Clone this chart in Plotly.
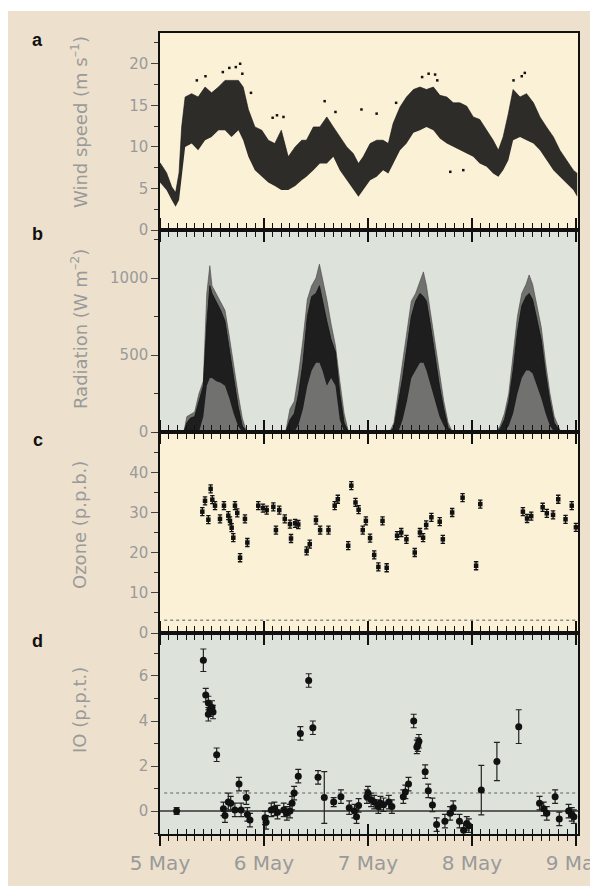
import numpy as np
import plotly.graph_objects as go

# ---------------- data ----------------
# Wind speed: envelope of the 1-s record (hours after 00:00 on 5 May)
wind_hours = [0, 1.5, 2.7, 3.6, 4.4, 5.0, 5.8, 7.3, 8.8, 10.4, 11.9, 13.5, 15, 16.5, 18.1,
              19.2, 20.4, 21.9, 23.5, 25, 26.5, 28, 29.6, 31.2, 32.7, 33.8, 35.4, 36.9, 38.5,
              40, 41.5, 43.1, 44.6, 45.8, 46.9, 48.5, 50, 51.5, 52.7, 53.8, 55.4, 56.9, 58.5,
              60, 61.5, 63.1, 64.6, 66.2, 67.7, 69.2, 70.8, 72.3, 73.8, 75.4, 76.9, 78.1,
              79.2, 80.4, 81.5, 83.1, 84.6, 86.2, 87.7, 89.2, 90.8, 92.3, 93.8, 95.4, 96.3]
wind_lo = [5.7, 4.8, 3.6, 2.8, 3.6, 6.4, 10.0, 10.4, 9.6, 10.8, 11.2, 12.0, 12.0, 11.2, 12.0,
           10.8, 8.8, 7.2, 6.4, 5.7, 5.3, 4.8, 4.8, 5.3, 6.0, 6.4, 7.2, 8.0, 8.0,
           8.8, 7.2, 6.0, 4.8, 4.0, 4.8, 6.0, 6.4, 7.2, 6.8, 8.0, 9.6, 10.4, 11.7,
           12.0, 12.4, 12.0, 11.0, 10.4, 10.0, 9.6, 9.2, 8.8, 8.0, 7.6, 6.8, 6.4,
           7.2, 8.4, 10.8, 11.2, 10.8, 10.4, 9.6, 8.4, 7.2, 6.4, 5.6, 4.8, 4.0]
wind_hi = [8.1, 6.9, 5.2, 4.5, 6.9, 12.4, 16.0, 16.4, 16.0, 17.2, 16.5, 17.2, 18.0, 18.0, 18.0,
           17.2, 14.5, 12.4, 12.0, 10.8, 10.4, 12.0, 8.8, 10.0, 10.8, 10.8, 12.4, 12.4, 13.6,
           12.4, 11.2, 10.0, 9.2, 8.0, 8.8, 10.4, 10.8, 10.8, 10.4, 12.8, 14.8, 16.0, 16.9,
           17.2, 16.9, 17.2, 16.2, 16.0, 15.3, 15.3, 14.9, 13.6, 13.3, 12.0, 10.8, 9.6,
           11.2, 14.0, 16.9, 16.0, 16.4, 15.3, 13.6, 12.4, 11.2, 9.6, 8.4, 7.2, 6.8]
# isolated gusts lying outside the main envelope
gust_hours = [8.5, 10.5, 14.5, 16.0, 17.5, 18.5, 19.0, 21.0, 26.0, 27.0, 28.5, 38.0, 40.5,
              46.5, 50.0, 54.5, 60.5, 62.0, 63.5, 64.0, 81.6, 83.5, 84.2, 67.0, 70.0]
gust_speed = [18.0, 18.5, 19.0, 19.5, 19.6, 20.0, 18.8, 16.5, 13.5, 13.8, 13.6, 15.5, 14.2,
              14.5, 14.0, 15.3, 18.4, 18.8, 18.7, 18.0, 18.0, 18.5, 18.9, 7.0, 7.2]

# Radiation (W m-2): upper envelope and the densely sampled core
rad_hours = [0,
             5.5, 6.2, 7, 8, 9, 10, 10.8, 11.5, 12, 13, 14, 15, 16, 17, 18, 19, 20,
             29, 30, 31, 32, 33, 34, 35, 36, 36.8, 37.5, 38.5, 39.5, 40.5, 41.5, 42.5, 43.5,
             53, 54, 55, 56, 57, 58, 59, 60, 60.8, 61.5, 62.5, 63.5, 64.5, 65.5, 66.5, 67.5,
             77.5, 78.5, 79.5, 80.5, 81.5, 82.5, 83.5, 84.5, 85.2, 86, 87, 88, 89, 90, 91, 92.5,
             96.5]
rad_max = [0,
           0, 100, 115, 130, 250, 330, 900, 1080, 950, 900, 840, 790, 620, 430, 250, 90, 0,
           0, 150, 200, 380, 600, 860, 950, 1000, 1090, 1000, 860, 700, 560, 330, 120, 0,
           0, 60, 250, 450, 650, 850, 900, 980, 1040, 950, 760, 560, 360, 200, 60, 0,
           0, 40, 120, 250, 500, 750, 900, 960, 1020, 960, 820, 680, 450, 250, 100, 0,
           0]
rad_core_lo = [0,
               0, 0, 0, 0, 0, 100, 300, 350, 350, 330, 320, 300, 220, 120, 40, 0, 0,
               0, 0, 0, 50, 150, 300, 400, 450, 450, 400, 300, 350, 300, 80, 0, 0,
               0, 0, 0, 80, 200, 350, 400, 450, 450, 400, 300, 200, 100, 40, 0, 0,
               0, 0, 0, 40, 120, 250, 350, 400, 400, 380, 300, 220, 120, 40, 0, 0,
               0]
rad_core_hi = [0,
               0, 60, 90, 100, 200, 300, 700, 950, 900, 850, 790, 720, 540, 350, 170, 40, 0,
               0, 80, 120, 250, 450, 750, 880, 900, 950, 850, 720, 600, 520, 250, 60, 0,
               0, 30, 180, 350, 550, 750, 850, 900, 880, 850, 680, 480, 300, 150, 30, 0,
               0, 20, 80, 200, 400, 650, 820, 880, 900, 860, 740, 600, 380, 200, 60, 0,
               0]

# Ozone (p.p.b.), time in days after 00:00 on 5 May
ozone_day = [0.407, 0.433, 0.465, 0.487, 0.503, 0.529, 0.577, 0.615, 0.657, 0.673, 0.689, 0.705,
             0.721, 0.743, 0.770, 0.817, 0.840, 0.945, 0.990, 1.026, 1.090, 1.115, 1.147, 1.200,
             1.250, 1.260, 1.300, 1.330, 1.410, 1.440, 1.500, 1.540, 1.620, 1.680, 1.710, 1.810,
             1.840, 1.880, 1.910, 1.950, 1.980, 2.020, 2.060, 2.100, 2.140, 2.180, 2.280, 2.320,
             2.370, 2.450, 2.500, 2.530, 2.560, 2.610, 2.690, 2.720, 2.810, 2.910, 3.040, 3.080,
             3.490, 3.530, 3.570, 3.680, 3.720, 3.780, 3.830, 3.900, 3.960, 4.000]
ozone_ppb = [30.3, 33.0, 28.3, 36.0, 33.3, 31.8, 28.5, 31.8, 29.3, 28.0, 26.3, 23.8,
             31.8, 30.0, 18.8, 28.5, 22.6, 31.8, 31.2, 30.7, 31.5, 25.7, 30.7, 28.5,
             27.2, 23.6, 27.4, 27.1, 20.5, 22.2, 28.2, 25.7, 25.7, 31.8, 33.4, 21.8,
             36.8, 32.6, 30.8, 25.7, 28.0, 23.7, 19.5, 16.5, 28.0, 16.3, 24.3, 25.1,
             23.4, 20.1, 25.1, 23.8, 27.0, 28.9, 27.8, 23.4, 30.1, 33.8, 16.8, 32.2,
             30.3, 28.6, 29.2, 31.4, 29.9, 29.5, 33.4, 28.4, 31.8, 26.4]
ozone_limit = 3.2

# IO (p.p.t.) with 1-sigma uncertainty
io_day = [0.16, 0.417, 0.44, 0.465, 0.48, 0.465, 0.50, 0.51, 0.545, 0.61, 0.625, 0.657, 0.68,
          0.72, 0.76, 0.78, 0.83, 0.84, 0.865, 1.01, 1.02, 1.07, 1.10, 1.13, 1.19, 1.22, 1.25,
          1.27, 1.29, 1.33, 1.35, 1.43, 1.47, 1.52, 1.58, 1.67, 1.74, 1.82, 1.87, 1.89, 1.91,
          1.99, 2.00, 2.03, 2.06, 2.10, 2.12, 2.15, 2.20, 2.23, 2.34, 2.36, 2.39, 2.44, 2.47,
          2.49, 2.48, 2.55, 2.58, 2.62, 2.66, 2.74, 2.79, 2.82, 2.88, 2.92, 2.95, 2.97, 3.09,
          3.24, 3.45, 3.65, 3.69, 3.72, 3.80, 3.84, 3.93, 3.96, 3.98]
io_ppt = [0.0, 6.7, 5.15, 4.8, 4.5, 4.3, 4.6, 4.4, 2.5, 0.1, -0.2, 0.4, 0.35,
          0.05, 1.2, 0.05, 0.6, -0.15, -0.4, -0.3, -0.5, 0.05, 0.1, -0.05, 0.05, -0.1, 0.0,
          0.35, 0.8, 1.55, 3.45, 5.8, 3.7, 1.5, 0.6, 0.4, 0.64, 0.15, 0.0, -0.25, 0.25,
          0.64, 0.8, 0.5, 0.4, 0.2, 0.35, 0.28, 0.4, 0.2, 0.64, 0.85, 1.2, 4.0, 2.85,
          3.1, 2.95, 1.75, 0.9, 0.27, -0.6, -0.45, -0.1, 0.15, -0.45, -0.85, -0.55, -0.65, 0.93,
          2.2, 3.75, 0.35, 0.1, -0.1, 0.64, -0.35, 0.0, -0.15, -0.25]
io_err = [0.15, 0.5, 0.3, 0.3, 0.3, 0.3, 0.3, 0.3, 0.3, 0.3, 0.3, 0.4, 0.3,
          0.3, 0.3, 0.3, 0.3, 0.3, 0.3, 0.3, 0.3, 0.3, 0.3, 0.3, 0.3, 0.3, 0.3,
          0.3, 0.3, 0.3, 0.3, 0.3, 0.3, 0.3, 1.15, 0.2, 0.3, 0.3, 0.3, 0.3, 0.3,
          0.3, 0.3, 0.3, 0.3, 0.3, 0.3, 0.3, 0.3, 0.3, 0.3, 0.3, 0.3, 0.3, 0.3,
          0.3, 0.3, 0.3, 0.3, 0.3, 0.3, 0.3, 0.3, 0.3, 0.3, 0.3, 0.3, 0.3, 1.1,
          0.85, 0.75, 0.3, 0.3, 0.3, 0.3, 0.3, 0.3, 0.3, 0.3]
io_limit = 0.8

day_ticks = [0, 1, 2, 3, 4]
day_labels = ["5 May", "6 May", "7 May", "8 May", "9 May"]
wind_ticks = [0, 5, 10, 15, 20]
rad_ticks = [0, 500, 1000]
ozone_ticks = [0, 10, 20, 30, 40]
io_ticks = [0, 2, 4, 6]

# ---------------- geometry ----------------
W, H = 590, 886
ML, MR, MT, MB = 160, 12, 33, 52
PW, PH = W - ML - MR, H - MT - MB
panel_px = [33, 230, 432, 633, 834]          # top edge of a, b, c, d and bottom of d


def px_x(px):
    return (px - ML) / PW


def px_y(py):
    return (H - MB - py) / PH


domains = [[px_y(panel_px[i + 1]), px_y(panel_px[i])] for i in range(4)]

PAGE = "#ede1cd"
CREAM = "#fbf1d6"
SAGE = "#dde3da"
GREY_TXT = "#9a9a9a"
FONT = "DejaVu Sans"
XR = [0, 4.02]

fig = go.Figure()

# wind speed
wx = np.array(wind_hours) / 24
fig.add_trace(go.Scatter(x=wx, y=wind_lo, mode="lines", line=dict(width=0, color="black"),
                         xaxis="x", yaxis="y", showlegend=False, hoverinfo="skip"))
fig.add_trace(go.Scatter(x=wx, y=wind_hi, mode="lines", line=dict(width=0.6, color="#111"),
                         fill="tonexty", fillcolor="rgba(12,12,12,0.86)",
                         xaxis="x", yaxis="y", showlegend=False))
fig.add_trace(go.Scatter(x=np.array(gust_hours) / 24, y=gust_speed, mode="markers",
                         marker=dict(size=2.5, color="#111", symbol="square"),
                         xaxis="x", yaxis="y", showlegend=False))

# radiation
rx = np.array(rad_hours) / 24
fig.add_trace(go.Scatter(x=rx, y=rad_max, mode="lines", line=dict(width=0.6, color="#444"),
                         fill="tozeroy", fillcolor="rgba(70,70,70,0.72)",
                         xaxis="x2", yaxis="y2", showlegend=False))
fig.add_trace(go.Scatter(x=rx, y=rad_core_lo, mode="lines", line=dict(width=0, color="black"),
                         xaxis="x2", yaxis="y2", showlegend=False, hoverinfo="skip"))
fig.add_trace(go.Scatter(x=rx, y=rad_core_hi, mode="lines", line=dict(width=0.8, color="#111"),
                         fill="tonexty", fillcolor="rgba(15,15,15,0.85)",
                         xaxis="x2", yaxis="y2", showlegend=False))

# ozone
fig.add_trace(go.Scatter(x=ozone_day, y=ozone_ppb, mode="markers",
                         marker=dict(size=4.5, color="#111", symbol="square"),
                         error_y=dict(type="constant", value=1.0, thickness=1.3, width=2.2,
                                      color="#111"),
                         xaxis="x3", yaxis="y3", showlegend=False))

# IO
fig.add_trace(go.Scatter(x=io_day, y=io_ppt, mode="markers",
                         marker=dict(size=7, color="#111"),
                         error_y=dict(type="data", array=io_err, thickness=1.2, width=3,
                                      color="#222"),
                         xaxis="x4", yaxis="y4", showlegend=False))
# carrier for the inward ticks on the bottom frame
fig.add_trace(go.Scatter(x=[None], y=[None], xaxis="x5", yaxis="y4",
                         showlegend=False, hoverinfo="skip"))

xbase = dict(range=XR, showgrid=False, zeroline=False, showline=True, linecolor="#111",
             linewidth=1.5, ticks="outside", tick0=0, dtick=1, ticklen=10, tickwidth=1.6,
             tickcolor="#111", showticklabels=False, automargin=False,
             minor=dict(dtick=1 / 12, tick0=0, ticks="outside", ticklen=5, tickwidth=1.4,
                        tickcolor="#111"))


def yax(i, rng, tickvals, minor_dtick):
    return dict(domain=domains[i], range=rng, showgrid=False, zeroline=False, showline=True,
                linecolor="#111", linewidth=1.5, mirror=True, ticks="outside",
                tickmode="array", tickvals=tickvals, automargin=False,
                ticklen=7, tickwidth=1.3, tickcolor="#444",
                tickfont=dict(family=FONT, size=15, color=GREY_TXT),
                minor=dict(tickmode="linear", dtick=minor_dtick, tick0=0, ticks="outside",
                           ticklen=4, tickwidth=1.3, tickcolor="#333"))


layout = dict(
    width=W, height=H, margin=dict(l=ML, r=MR, t=MT, b=MB, autoexpand=False),
    paper_bgcolor="white", plot_bgcolor="rgba(0,0,0,0)", showlegend=False,
    xaxis=dict(xbase, anchor="y", mirror=True),
    xaxis2=dict(xbase, anchor="y2", mirror="ticks"),
    xaxis3=dict(xbase, anchor="y3", mirror="ticks"),
    xaxis4=dict(xbase, anchor="y4", mirror="ticks", showticklabels=True,
                tickmode="array", tickvals=day_ticks, ticktext=day_labels,
                ticklabeloverflow="allow",
                tickfont=dict(family=FONT, size=20, color=GREY_TXT)),
    xaxis5=dict(xbase, anchor="y4", overlaying="x4", side="bottom", ticks="inside",
                showline=False,
                minor=dict(dtick=1 / 12, tick0=0, ticks="inside", ticklen=5, tickwidth=1.4,
                           tickcolor="#111")),
    yaxis=yax(0, [0, 23.7], wind_ticks, 2.5),
    yaxis2=yax(1, [0, 1312], rad_ticks, 250),
    yaxis3=yax(2, [0, 50.2], ozone_ticks, 5),
    yaxis4=yax(3, [-1.02, 7.91], io_ticks, 1),
)

# page and panel backgrounds, then reference lines
shapes = [dict(type="rect", xref="paper", yref="paper", x0=px_x(8), x1=px_x(W),
               y0=px_y(H), y1=px_y(11), fillcolor=PAGE, line=dict(width=0), layer="below")]
for i, col in enumerate([CREAM, SAGE, CREAM, SAGE]):
    shapes.append(dict(type="rect", xref="paper", yref="paper", x0=0, x1=1,
                       y0=domains[i][0], y1=domains[i][1], fillcolor=col,
                       line=dict(width=0), layer="below"))
shapes.append(dict(type="line", xref="paper", yref="y3", x0=0.01, x1=1, y0=ozone_limit,
                   y1=ozone_limit, line=dict(color="#8c8c8c", width=1.5, dash="dot"),
                   layer="below"))
shapes.append(dict(type="line", xref="paper", yref="y4", x0=0.01, x1=1, y0=io_limit,
                   y1=io_limit, line=dict(color="#8c8c8c", width=1.5, dash="dot"),
                   layer="below"))
shapes.append(dict(type="line", xref="paper", yref="y4", x0=0, x1=1, y0=0, y1=0,
                   line=dict(color="#333", width=1.5), layer="below"))
layout["shapes"] = shapes

annotations = []
for letter, py in zip(["a", "b", "c", "d"], [40, 234, 440, 641]):
    annotations.append(dict(text=f"<b>{letter}</b>", xref="paper", yref="paper",
                            x=px_x(38), y=px_y(py), xanchor="center", yanchor="middle",
                            showarrow=False,
                            font=dict(family="Liberation Sans", size=18, color="#111")))
titles = ["Wind speed (m s<sup>–1</sup>)", "Radiation (W m<sup>–2</sup>)",
          "Ozone (p.p.b.)", "IO (p.p.t.)"]
for t, py in zip(titles, [122, 329, 525, 710]):
    annotations.append(dict(text=t, xref="paper", yref="paper", x=px_x(79), y=px_y(py),
                            xanchor="center", yanchor="middle", textangle=-90,
                            showarrow=False,
                            font=dict(family=FONT, size=18, color=GREY_TXT)))
layout["annotations"] = annotations

fig.update_layout(layout)
fig.write_html("out.html")
